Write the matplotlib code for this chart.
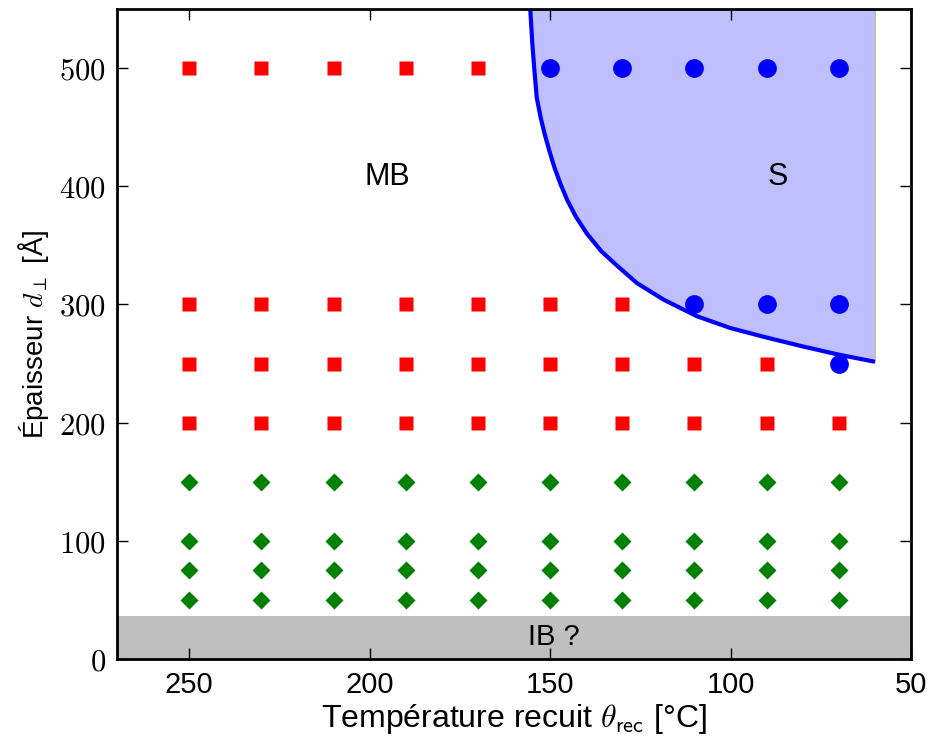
import matplotlib
matplotlib.use("Agg")
from matplotlib import pyplot as plt
from matplotlib.ticker import FuncFormatter

plt.rcParams['mathtext.fontset'] = 'cm'
plt.rcParams['font.family'] = ['Liberation Sans', 'DejaVu Sans']

temps = [250, 230, 210, 190, 170, 150, 130, 110, 90, 70]

# red squares (MB)
mb_500 = [250, 230, 210, 190, 170]
mb_300 = [250, 230, 210, 190, 170, 150, 130]
mb_250 = [250, 230, 210, 190, 170, 150, 130, 110, 90]
mb_200 = [250, 230, 210, 190, 170, 150, 130, 110, 90, 70]

# blue circles (S)
s_500 = [150, 130, 110, 90, 70]
s_300 = [110, 90, 70]
s_250 = [70]

# green diamonds
ib_thick = [150, 100, 75, 50]

# boundary curve
curve_x = [155.5, 154.9, 154.4, 153.7, 152.6, 151.4, 150.2, 148.8, 147.0, 145.2,
           142.8, 139.8, 135.8, 131.5, 125.9, 118.5, 109.3, 100.0, 90.0, 80.0,
           70.0, 60.0]
curve_y = [550, 520, 500, 475, 458, 443, 430, 416, 401, 388,
           374, 360, 345, 333, 318, 304, 290, 280, 272, 264.5,
           257.5, 251.5]

ib_top = 36

fig = plt.figure(figsize=(9.31, 7.40), dpi=100)
ax = fig.add_axes([0.1257, 0.1095, 0.8528, 0.8783])

ax.axhspan(0, ib_top, color='#bfbfbf', lw=0, zorder=0)
ax.fill_betweenx(curve_y, curve_x, [60] * len(curve_x), color='#bfbfff', lw=0, zorder=0)
ax.plot([60, 60], [curve_y[-1], 550], color='#c0c0c0', lw=1.5, zorder=1)
ax.plot(curve_x, curve_y, color='blue', lw=3, zorder=2, solid_capstyle='butt',
        solid_joinstyle='round')

for xs, d in [(mb_500, 500), (mb_300, 300), (mb_250, 250), (mb_200, 200)]:
    ax.plot(xs, [d] * len(xs), 's', color='red', ms=10, mec='none', zorder=3)
for xs, d in [(s_500, 500), (s_300, 300), (s_250, 250)]:
    ax.plot(xs, [d] * len(xs), 'o', color='blue', ms=13.5, mec='none', zorder=3)
for d in ib_thick:
    ax.plot(temps, [d] * len(temps), 'D', color='green', ms=9, mec='none', zorder=3)

ax.text(195, 408, 'MB', fontsize=22, ha='center', va='center')
ax.text(87, 408, 'S', fontsize=22, ha='center', va='center')
ax.text(149, 19, 'IB ?', fontsize=21, ha='center', va='center')

ax.set_xlim(270, 50)
ax.set_ylim(0, 550)
ax.set_xticks([250, 200, 150, 100, 50])
ax.set_yticks([0, 100, 200, 300, 400, 500])
ax.yaxis.set_major_formatter(FuncFormatter(lambda v, p: '$%d$' % v))

ax.tick_params(direction='in', top=True, right=True, length=8, width=1)
ax.tick_params(axis='x', labelsize=21, pad=9)
ax.tick_params(axis='y', labelsize=22, pad=8)
for s in ax.spines.values():
    s.set_linewidth(2)

ax.set_xlabel(r'Température recuit $\theta_{\mathsf{rec}}$ [°C]', fontsize=23, labelpad=2)
ax.set_ylabel(r'Épaisseur $d_\perp$ [Å]', fontsize=20, labelpad=6)

fig.savefig('out.png', dpi=100)
